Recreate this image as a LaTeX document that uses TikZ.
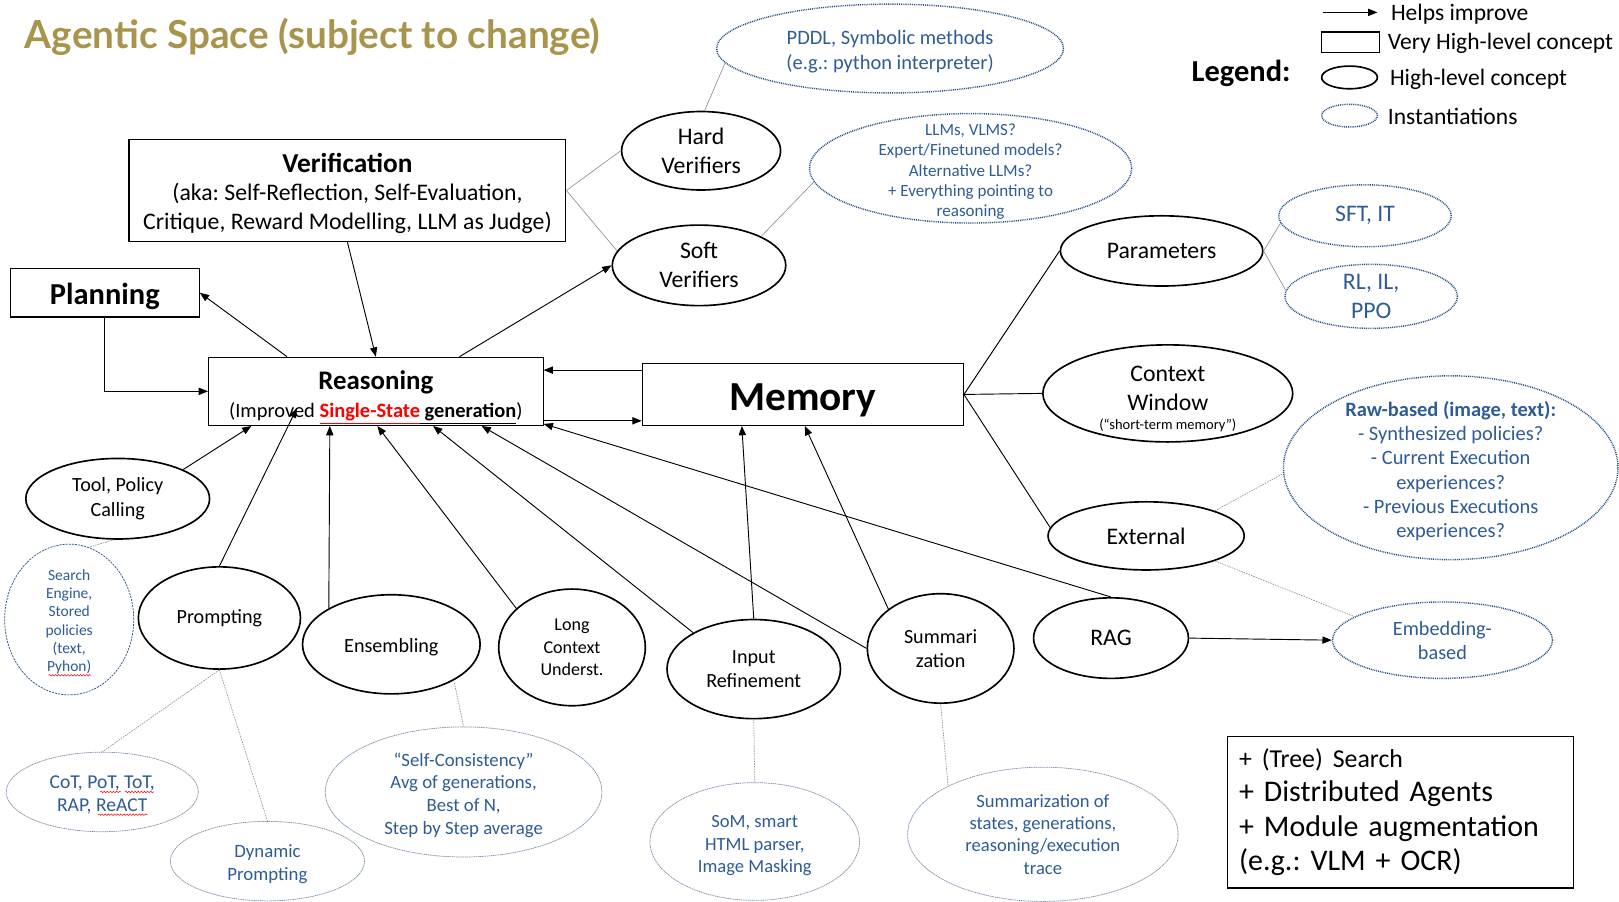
\documentclass[tikz,border=0pt]{standalone}
\usepackage{fontspec}
\setmainfont{Carlito}
\newfontfamily\titlefont{Lato}
\usetikzlibrary{shapes.geometric,arrows.meta,calc,decorations.pathmorphing}
\definecolor{titlegold}{RGB}{169,148,77}
\definecolor{txtblue}{RGB}{46,92,150}
\definecolor{dotblue}{RGB}{40,80,130}
\definecolor{thinblue}{RGB}{125,145,175}
\definecolor{linkgray}{RGB}{140,140,140}
\newcommand\fsz[2]{\fontsize{#1}{#2}\selectfont}
\frenchspacing
\begin{document}
\begin{tikzpicture}[x=1pt,y=-1pt,
 vhl/.style={rectangle,draw,line width=1.1pt,align=center,inner sep=0pt},
 hl/.style={ellipse,draw,line width=1.6pt,align=center,inner xsep=0pt,inner ysep=-20pt},
 inst/.style={ellipse,draw=dotblue,line width=1.4pt,dash pattern=on 0.9pt off 0.9pt,align=center,inner xsep=0pt,inner ysep=-20pt,text=txtblue},
 instthin/.style={ellipse,draw=thinblue,line width=0.7pt,dash pattern=on 1.2pt off 0.6pt,align=center,inner xsep=0pt,inner ysep=-20pt,text=txtblue},
 instdash/.style={ellipse,draw=dotblue,line width=0.7pt,dash pattern=on 2pt off 1pt,align=center,inner xsep=0pt,inner ysep=-20pt,text=txtblue},
 arr/.style={-{Triangle[length=9pt,width=7pt]},line width=0.9pt},
 plain/.style={line width=0.9pt},
 link/.style={draw=linkgray,line width=0.6pt},
 dlink/.style={draw=linkgray,line width=0.6pt,dash pattern=on 1.5pt off 1pt},
 legtxt/.style={anchor=west,font=\fsz{22.8}{26},inner sep=0pt},
 squig/.style={draw=red,line width=0.5pt,decorate,decoration={snake,amplitude=0.7pt,segment length=3pt}}
]
\useasboundingbox (0,0) rectangle (1568,873);
\fill[white] (0,0) rectangle (1568,873);

% title
\node[anchor=west,font=\titlefont\bfseries\fsz{37.5}{44},text=titlegold,inner sep=0pt] (title) at (24,36) {Agentic Space (subject to change)};

% legend
\node[font=\bfseries\fsz{29.5}{34},inner sep=0pt] (leg) at (1202,71) {Legend:};
\coordinate (la) at (1281,12);
\coordinate (lb) at (1334,12);
\draw[arr] (la) -- (lb);
\node[legtxt] (lt1) at (1347,14) {Helps improve};
\node[draw,line width=1pt,minimum width=56pt,minimum height=20pt,inner sep=0pt] (lrect) at (1308,41) {};
\node[legtxt] (lt2) at (1344,42) {Very High-level concept};
\node[ellipse,draw,line width=1.6pt,minimum width=54pt,minimum height=22pt,inner sep=0pt] (lell) at (1307,75) {};
\node[legtxt] (lt3) at (1346,77) {High-level concept};
\node[inst,minimum width=54pt,minimum height=22pt] (ldot) at (1307,112) {};
\node[legtxt] (lt4) at (1344,113) {Instantiations};

% very high-level boxes
\node[vhl,minimum width=423pt,minimum height=99pt,font=\fsz{23}{27.5}] (verif) at (336.5,184.5)
  {{\fsz{26.5}{30}\bfseries\rule{0pt}{24pt}Verification}\\(aka: Self-Reflection, Self-Evaluation,\\Critique, Reward Modelling, LLM as Judge)};
\node[vhl,minimum width=183pt,minimum height=47pt,font=\bfseries\fsz{29.5}{34}] (plan) at (101.5,283.5) {\rule{0pt}{28pt}Planning};
\node[vhl,minimum width=324pt,minimum height=66pt,font=\fsz{19.8}{28}] (reas) at (364,379)
  {{\bfseries\fsz{26}{28}\rule{0pt}{29pt}Reasoning}\\(Improved {\color{red}\underline{\bfseries Single-State}}\underline{\bfseries\ generation})};
\node[vhl,minimum width=311pt,minimum height=60pt,font=\bfseries\fsz{40}{44}] (mem) at (777.5,382) {\rule{0pt}{37pt}Memory};
\node[vhl,align=left,minimum width=335pt,minimum height=147pt,text width=313pt,font=\fsz{29}{33.5}] (extra) at (1356.5,786.5)
  {{\fsz{25}{33.5}+ (Tree) Search}\\+ Distributed Agents\\+ Module augmentation\\(e.g.: VLM + OCR)};

% high-level ellipses
\node[hl,minimum width=154pt,minimum height=76pt,font=\fsz{23}{28}] (hard) at (679,146) {Hard\\Verifiers};
\node[hl,minimum width=168pt,minimum height=78pt,font=\fsz{23}{28}] (soft) at (677,257) {Soft\\Verifiers};
\node[hl,minimum width=196pt,minimum height=68pt,font=\fsz{23}{28}] (param) at (1125,243) {Parameters};
\node[hl,minimum width=242pt,minimum height=94pt,font=\fsz{23}{28}] (ctx) at (1131,381) {\rule{0pt}{26pt}Context\\Window\\[-9pt]{\fsz{14}{16}(“short-term memory”)}};
\node[hl,minimum width=190pt,minimum height=66pt,font=\fsz{23}{28}] (ext) at (1110,519) {External};
\node[hl,minimum width=150pt,minimum height=78pt,font=\fsz{23}{28}] (rag) at (1076,618) {RAG};
\node[hl,minimum width=142pt,minimum height=106pt,font=\fsz{19.5}{23}] (summ) at (911,628) {Summari\\zation};
\node[hl,minimum width=168pt,minimum height=96pt,font=\fsz{19.5}{23}] (inp) at (730,648) {Input\\Refinement};
\node[hl,minimum width=142pt,minimum height=113pt,font=\fsz{17.5}{21.5}] (long) at (554,627) {Long\\Context\\Underst.};
\node[hl,minimum width=172pt,minimum height=96pt,font=\fsz{19.5}{23}] (ens) at (379,624) {\rule{0pt}{19pt}Ensembling};
\node[hl,minimum width=157pt,minimum height=99pt,font=\fsz{19.5}{23}] (prom) at (212.5,598.5) {Prompting};
\node[hl,minimum width=178pt,minimum height=78pt,font=\fsz{19.5}{24}] (tool) at (114,483) {Tool, Policy\\Calling};

% instantiations
\node[inst,minimum width=336pt,minimum height=86pt,font=\fsz{19.8}{24}] (pddl) at (862,47) {\rule{0pt}{20pt}PDDL, Symbolic methods\\(e.g.: python interpreter)};
\node[inst,minimum width=312pt,minimum height=106pt,font=\fsz{16.5}{19.7}] (llm) at (940,163) {\rule{0pt}{18pt}LLMs, VLMS?\\Expert/Finetuned models?\\Alternative LLMs?\\+ Everything pointing to\\reasoning};
\node[inst,minimum width=167pt,minimum height=60pt,font=\fsz{23}{28}] (sft) at (1322,209) {SFT, IT};
\node[inst,minimum width=167pt,minimum height=62pt,font=\fsz{23}{27.5}] (rl) at (1328,287) {RL, IL,\\PPO};
\node[inst,minimum width=324pt,minimum height=178pt,font=\fsz{19.8}{23.6}] (raw) at (1405,453) {\textbf{\rule{0pt}{21pt}Raw-based (image, text):}\\- Synthesized policies?\\- Current Execution\\experiences?\\- Previous Executions\\experiences?};
\node[inst,minimum width=213pt,minimum height=74pt,font=\fsz{19.6}{23}] (emb) at (1397,620) {Embedding-\\based};
\node[instdash,minimum width=125pt,minimum height=146pt,font=\fsz{15}{17.8}] (search) at (67,600) {\rule{0pt}{15pt}Search\\Engine,\\Stored\\policies\\(text,\\Pyhon)};
\node[instthin,minimum width=186pt,minimum height=77pt,font=\fsz{19}{22}] (cot) at (99,767) {\rule{0pt}{18pt}CoT, PoT, ToT,\\RAP, ReACT};
\node[instthin,minimum width=188pt,minimum height=77pt,font=\fsz{18.2}{22}] (dyn) at (259,834) {\rule{0pt}{18pt}Dynamic\\Prompting};
\node[instthin,minimum width=268pt,minimum height=126pt,font=\fsz{18.2}{22}] (sc) at (449,767) {\rule{0pt}{19pt}“Self-Consistency”\\Avg of generations,\\Best of N,\\Step by Step average};
\node[instthin,minimum width=203pt,minimum height=114pt,font=\fsz{18}{22}] (som) at (731,815) {\rule{0pt}{20pt}SoM, smart\\HTML parser,\\Image Masking};
\node[instthin,minimum width=262pt,minimum height=130pt,font=\fsz{18}{21.7}] (smo) at (1010,808) {Summarization of\\states, generations,\\reasoning/execution\\trace};

% spell-check squiggles
\draw[squig] (47,654) -- (88,654);
\draw[squig] (97,767) -- (117,767);
\draw[squig] (121,767) -- (149,767);
\draw[squig] (95,789) -- (143,789);

% arrows
\draw[arr] (verif.south) -- (reas.north);
\draw[arr] ([xshift=-86pt]reas.north) -- (plan.east);
\draw[arr] (plan.south) |- (reas.west);
\draw[arr] ([xshift=81pt]reas.north) -- (soft.west);
\draw[arr] ([yshift=-7pt]mem.north west) -- ([yshift=-7pt]mem.north west -| reas.east);
\draw[arr] ([yshift=5pt]reas.south east) -- ([yshift=5pt]reas.south east -| mem.west);
\draw[arr] (tool.24) -- ([xshift=42pt]reas.south west);
\draw[arr] (prom.north) -- ([xshift=86pt,yshift=17pt]reas.south west);
\draw[arr] (ens.150) -- ([xshift=118pt]reas.south west);
\draw[arr] (long.145) -- ([xshift=164pt]reas.south west);
\draw[arr] (inp.149) -- ([xshift=218pt]reas.south west);
\draw[arr] (summ.west) -- ([xshift=265pt]reas.south west);
\draw[arr] (rag.north) -- ([yshift=2pt]reas.south east);
\draw[arr] (inp.north) -- ([xshift=97pt]mem.south west);
\draw[arr] (summ.143) -- ([xshift=158pt]mem.south west);
\draw[arr] (rag.east) -- (emb.west);

% memory branches
\draw[plain] (mem.east) -- (param.west);
\draw[plain] (mem.east) -- (ctx.west);
\draw[plain] (mem.east) -- (ext.175);

% instantiation links
\draw[link] (verif.east) -- (hard.west);
\draw[link] (verif.east) -- (soft.170);
\draw[link] (hard.85) -- (pddl.185);
\draw[link] (soft.25) -- (llm.185);
\draw[link] (param.east) -- (sft.185);
\draw[link] (param.east) -- (rl.176);
\draw[dlink] (ext.20) -- (raw.182);
\draw[dlink] (ext.340) -- (emb.165);
\draw[dlink] (tool.265) -- (search.75);
\draw[dlink] (prom.south) -- (cot.north);
\draw[dlink] (prom.south) -- (dyn.north);
\draw[dlink] (ens.330) -- (sc.north);
\draw[dlink] (inp.south) -- (som.north);
\draw[dlink] (summ.south) -- (smo.153);
\end{tikzpicture}
\end{document}
